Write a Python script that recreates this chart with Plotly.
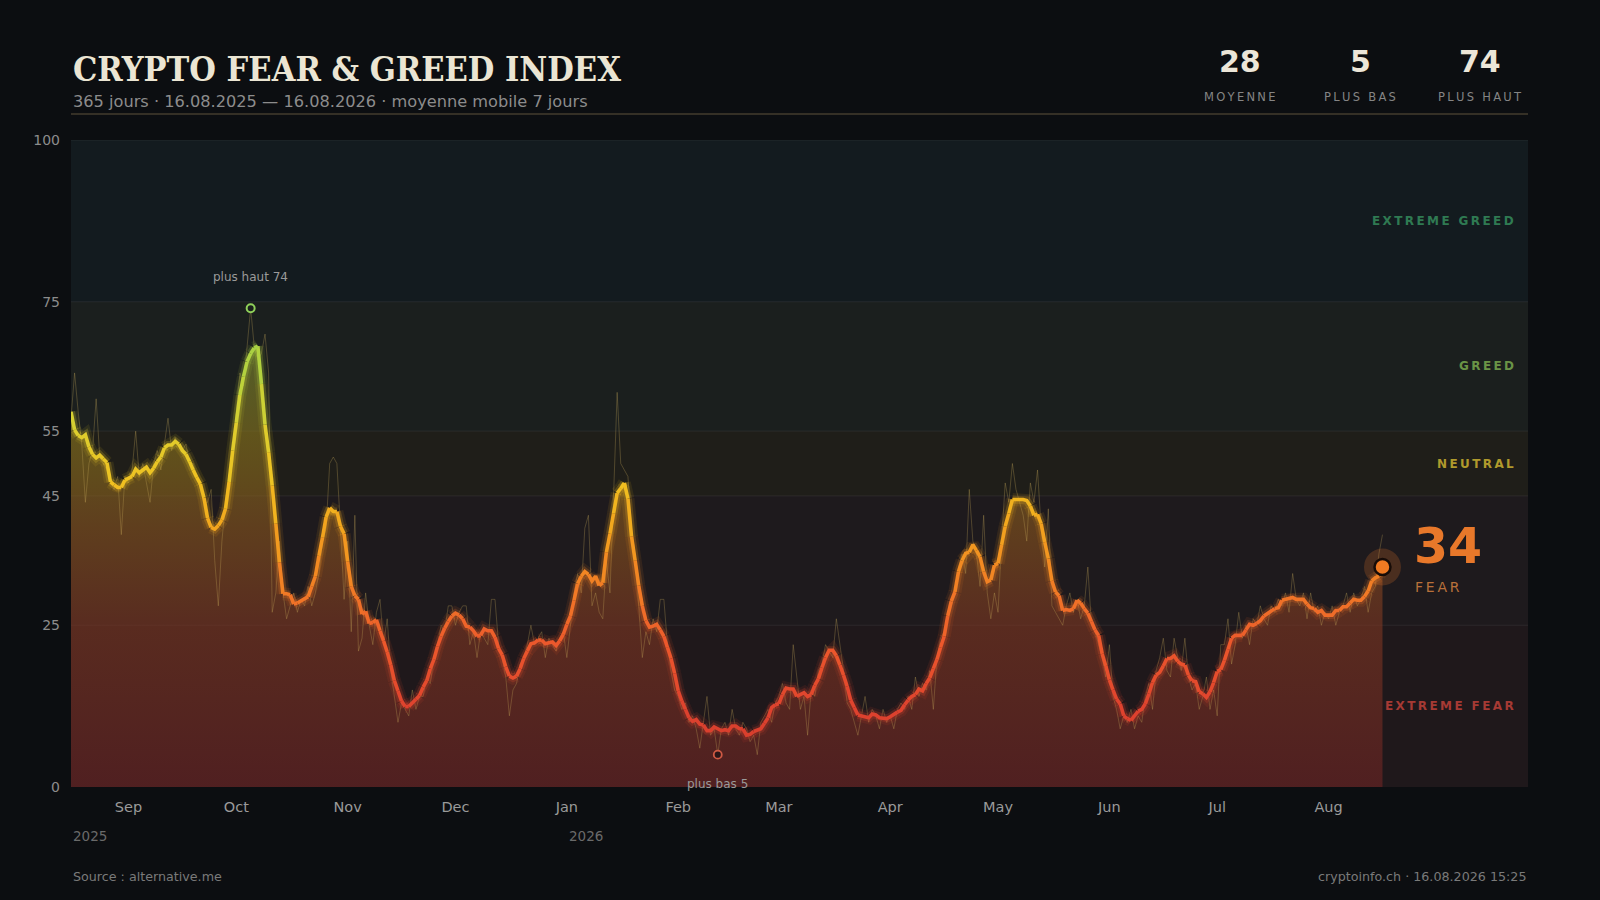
import numpy as np
import pandas as pd
import plotly.graph_objects as go

# ---------------- data (daily Fear & Greed values) ----------------
raw_aug25 = [57, 64, 58, 53, 44, 50, 52, 60, 51, 50, 49, 47, 46, 48, 39, 48]
raw_sep25 = [47, 49, 55, 48, 50, 47, 44, 50, 52, 49, 53, 57, 52, 54, 53, 52, 53, 50, 50, 48,
             46, 44, 44, 46, 35, 28, 38, 44, 48, 50]
raw_oct25 = [58, 64, 62, 68, 74, 68, 66, 67, 70, 64, 27, 30, 38, 30, 26, 28, 30, 27, 29, 28,
             31, 28, 30, 33, 38, 40, 50, 51, 50, 40, 29]
raw_nov25 = [38, 24, 42, 21, 23, 30, 25, 22, 27, 29, 22, 26, 18, 14, 10, 13, 12, 11, 15, 12,
             14, 14, 17, 16, 20, 22, 25, 24, 28, 28]
raw_dec25 = [25, 27, 28, 28, 22, 24, 20, 24, 23, 22, 29, 29, 22, 20, 17, 11, 15, 16, 19, 20,
             22, 25, 22, 23, 24, 20, 23, 22, 21, 23, 24]
raw_jan26 = [20, 25, 30, 33, 30, 40, 42, 28, 30, 27, 26, 35, 30, 45, 61, 50, 49, 48, 40, 36,
             28, 20, 24, 22, 26, 24, 29, 29, 22, 18, 15]
raw_feb26 = [14, 12, 13, 10, 11, 9, 6, 10, 14, 8, 9, 5, 9, 10, 8, 12, 9, 8, 10, 9,
             7, 8, 5, 10, 11, 12, 10, 13]
raw_mar26 = [14, 16, 13, 12, 22, 17, 12, 14, 8, 15, 14, 18, 19, 22, 21, 20, 26, 22, 18, 13,
             12, 10, 8, 11, 14, 10, 12, 11, 9, 12, 10]
raw_apr26 = [11, 9, 12, 13, 12, 14, 12, 17, 14, 16, 15, 18, 12, 20, 23, 24, 26, 28, 30, 34,
             36, 33, 46, 38, 36, 31, 42, 30, 26, 30]
raw_may26 = [27, 38, 47, 44, 50, 46, 44, 42, 38, 47, 44, 49, 40, 34, 43, 28, 27, 26, 25, 28,
             30, 27, 29, 26, 28, 34, 25, 24, 22, 20, 17]
raw_jun26 = [22, 14, 12, 9, 11, 10, 12, 9, 11, 10, 14, 16, 12, 18, 20, 23, 18, 17, 23, 20,
             18, 23, 17, 15, 16, 12, 14, 17, 12, 15]
raw_jul26 = [11, 22, 22, 26, 19, 22, 27, 23, 25, 22, 26, 25, 28, 26, 25, 28, 27, 29, 28, 30,
             27, 33, 29, 28, 30, 26, 30, 27, 28, 25, 27]
raw_aug26 = [26, 28, 25, 27, 28, 30, 27, 30, 28, 29, 31, 27, 30, 31, 36, 39]

start_date = "2025-08-16"
axis_end = "2026-09-25 12:00"

zone_edges = [0, 25, 45, 55, 75, 100]
zone_names = ["EXTREME FEAR", "FEAR", "NEUTRAL", "GREED", "EXTREME GREED"]
zone_bg = ["#1f181b", "#1e1a1d", "#1f1e19", "#1b1f1e", "#131b1f"]
zone_label_colors = ["#a63a34", None, "#b09a2c", "#6a9446", "#2f7a52"]

y_ticks = [0, 25, 45, 55, 75, 100]
year_labels = [("2025", "2025-08-16"), ("2026", "2026-01-01")]

title_text = "CRYPTO FEAR & GREED INDEX"
subtitle_text = "365 jours · 16.08.2025 — 16.08.2026 · moyenne mobile 7 jours"
source_text = "Source : alternative.me"
stamp_text = "cryptoinfo.ch · 16.08.2026 15:25"

# ---------------- derived ----------------
raw = (raw_aug25 + raw_sep25 + raw_oct25 + raw_nov25 + raw_dec25 + raw_jan26 + raw_feb26 +
       raw_mar26 + raw_apr26 + raw_may26 + raw_jun26 + raw_jul26 + raw_aug26)
raw = np.array(raw, dtype=float)
dates = pd.date_range(start_date, periods=len(raw), freq="D")
ma = pd.Series(raw).rolling(7, center=True, min_periods=1).mean().to_numpy()

avg_v = int(round(raw.mean()))
min_i = int(np.argmin(raw))
max_i = int(np.argmax(raw))
cur_v = int(round(ma[-1]))

month_ticks = pd.date_range("2025-09-01", "2026-08-01", freq="MS")
month_labels = [d.strftime("%b") for d in month_ticks]

# pixel helpers (plot area 71..1528 x 140..787)
L, R, T, B = 71, 1528, 140, 787
def px(xp):
    return (xp - L) / (R - L)
def py(yp):
    return (B - yp) / (B - T)

def spaced(s):
    return "\u2009".join(s)

stops = [(0, (208, 58, 44)), (12, (222, 66, 46)), (22, (236, 88, 44)), (28, (240, 112, 40)),
         (34, (242, 138, 34)), (40, (242, 164, 30)), (47, (240, 192, 32)), (55, (222, 206, 46)),
         (63, (186, 210, 60)), (72, (150, 206, 74)), (100, (120, 200, 90))]
def col(v, a=1.0):
    for (v0, c0), (v1, c1) in zip(stops[:-1], stops[1:]):
        if v <= v1:
            t = (v - v0) / (v1 - v0) if v1 > v0 else 0
            c = [int(round(c0[k] + t * (c1[k] - c0[k]))) for k in range(3)]
            return f"rgba({c[0]},{c[1]},{c[2]},{a})"
    c = stops[-1][1]
    return f"rgba({c[0]},{c[1]},{c[2]},{a})"

fig = go.Figure()

# zones
shapes = []
for i in range(5):
    shapes.append(dict(type="rect", xref="paper", yref="y", x0=0, x1=1,
                       y0=zone_edges[i], y1=zone_edges[i + 1],
                       fillcolor=zone_bg[i], line=dict(width=0), layer="below"))
for e in zone_edges[1:]:
    shapes.append(dict(type="line", xref="paper", yref="y", x0=0, x1=1, y0=e, y1=e,
                       line=dict(color="rgba(255,255,255,0.07)", width=1), layer="below"))
# header rule
shapes.append(dict(type="line", xref="paper", yref="paper", x0=0, x1=1, y0=py(114), y1=py(114),
                   line=dict(color="#433d2e", width=1.5)))

# area fill with vertical gradient
fig.add_trace(go.Scatter(
    x=dates, y=ma, mode="lines", line=dict(width=0, color="rgba(0,0,0,0)"),
    fill="tozeroy",
    fillgradient=dict(type="vertical", start=0, stop=70,
                      colorscale=[[0.0, "rgba(110,36,36,0.62)"],
                                  [0.36, "rgba(128,56,34,0.60)"],
                                  [0.57, "rgba(142,88,30,0.58)"],
                                  [0.78, "rgba(150,128,30,0.55)"],
                                  [1.0, "rgba(128,150,52,0.55)"]]),
    hoverinfo="skip"))

# raw daily line
fig.add_trace(go.Scatter(x=dates, y=raw, mode="lines",
                         line=dict(color="rgba(200,170,90,0.30)", width=1),
                         hoverinfo="skip"))

# moving-average line coloured by value (segments grouped by value bin)
groups = {}
for i in range(len(ma) - 1):
    b = int(round((ma[i] + ma[i + 1]) / 2))
    xs, ys = groups.setdefault(b, ([], []))
    if len(xs) >= 2 and xs[-2] == dates[i]:
        xs.pop(); ys.pop()
        xs += [dates[i + 1], None]; ys += [ma[i + 1], None]
    else:
        xs += [dates[i], dates[i + 1], None]; ys += [ma[i], ma[i + 1], None]

for width, alpha in [(13, 0.10), (8, 0.22)]:
    for b, (xs, ys) in groups.items():
        fig.add_trace(go.Scatter(x=xs, y=ys, mode="lines",
                                 line=dict(color=col(b, alpha), width=width),
                                 hoverinfo="skip", connectgaps=False))
for b, (xs, ys) in groups.items():
    fig.add_trace(go.Scatter(x=xs, y=ys, mode="lines",
                             line=dict(color=col(b, 1.0), width=3.6),
                             hoverinfo="skip", connectgaps=False))

# max / min markers
fig.add_trace(go.Scatter(x=[dates[max_i]], y=[raw[max_i]], mode="markers",
                         marker=dict(size=8, color="#1b201d",
                                     line=dict(color="#8fd05a", width=2)),
                         hoverinfo="skip"))
fig.add_trace(go.Scatter(x=[dates[min_i]], y=[raw[min_i]], mode="markers",
                         marker=dict(size=8, color="#2a1618",
                                     line=dict(color="#d05a44", width=1.8)),
                         hoverinfo="skip"))

# current value marker
fig.add_trace(go.Scatter(x=[dates[-1]], y=[ma[-1]], mode="markers",
                         marker=dict(size=37, color="rgba(232,120,42,0.22)", line=dict(width=0)),
                         hoverinfo="skip"))
fig.add_trace(go.Scatter(x=[dates[-1]], y=[ma[-1]], mode="markers",
                         marker=dict(size=16, color="#f07a22",
                                     line=dict(color="#170c08", width=2.5)),
                         hoverinfo="skip"))

ann = []
# title block
ann.append(dict(xref="paper", yref="paper", x=0, y=py(69), xanchor="left", yanchor="middle",
                text=f"<b>{title_text}</b>", showarrow=False,
                font=dict(family="DejaVu Serif Condensed, Liberation Serif, serif",
                          size=34, color="#ebe5d3")))
ann.append(dict(xref="paper", yref="paper", x=0, y=py(101), xanchor="left", yanchor="middle",
                text=subtitle_text, showarrow=False,
                font=dict(family="DejaVu Sans", size=16.2, color="#8c8c8c")))
# stats
for xc, val, lab in [(1240, avg_v, "MOYENNE"), (1360, int(raw[min_i]), "PLUS BAS"),
                     (1480, int(raw[max_i]), "PLUS HAUT")]:
    ann.append(dict(xref="paper", yref="paper", x=px(xc), y=py(62), xanchor="center",
                    yanchor="middle", text=f"<b>{val}</b>", showarrow=False,
                    font=dict(family="DejaVu Sans", size=30, color="#ece6d8")))
    ann.append(dict(xref="paper", yref="paper", x=px(xc), y=py(97), xanchor="center",
                    yanchor="middle", text=spaced(lab), showarrow=False,
                    font=dict(family="DejaVu Sans", size=11.5, color="#858585")))
# zone labels
for i in range(5):
    if zone_label_colors[i] is None:
        continue
    ann.append(dict(xref="paper", yref="y", x=px(1516), y=(zone_edges[i] + zone_edges[i + 1]) / 2,
                    xanchor="right", yanchor="middle", text=f"<b>{spaced(zone_names[i])}</b>",
                    showarrow=False, font=dict(family="DejaVu Sans", size=12,
                                               color=zone_label_colors[i])))
# max/min labels
ann.append(dict(x=dates[max_i], y=raw[max_i], yshift=31, text=f"plus haut {int(raw[max_i])}",
                showarrow=False, font=dict(family="DejaVu Sans", size=12, color="#9a9a9a")))
ann.append(dict(x=dates[min_i], y=raw[min_i], yshift=-29, text=f"plus bas {int(raw[min_i])}",
                showarrow=False, font=dict(family="DejaVu Sans", size=12, color="#9a9a9a")))
# current value label
ann.append(dict(xref="paper", yref="paper", x=px(1412), y=py(546), xanchor="left",
                yanchor="middle", text=f"<b>{cur_v}</b>", showarrow=False,
                font=dict(family="DejaVu Sans", size=49, color="#e8782a")))
ann.append(dict(xref="paper", yref="paper", x=px(1413), y=py(587), xanchor="left",
                yanchor="middle", text=spaced("FEAR"), showarrow=False,
                font=dict(family="DejaVu Sans", size=14, color="#b8703a")))
# year labels
for txt, d in year_labels:
    ann.append(dict(xref="x", yref="paper", x=d, y=py(836), xanchor="left", yanchor="middle",
                    text=txt, showarrow=False,
                    font=dict(family="DejaVu Sans", size=13.5, color="#6a6a6a")))
# footer
ann.append(dict(xref="paper", yref="paper", x=0, y=py(876), xanchor="left", yanchor="middle",
                text=source_text, showarrow=False,
                font=dict(family="DejaVu Sans", size=12.7, color="#7a7a7a")))
ann.append(dict(xref="paper", yref="paper", x=1, y=py(876), xanchor="right", yanchor="middle",
                text=stamp_text, showarrow=False,
                font=dict(family="DejaVu Sans", size=12.7, color="#7a7a7a")))

fig.update_layout(
    width=1600, height=900,
    paper_bgcolor="#0c0e11", plot_bgcolor="#1e1a1d",
    margin=dict(l=L, r=1600 - R, t=T, b=900 - B, autoexpand=False),
    showlegend=False,
    font=dict(family="DejaVu Sans", color="#8c8c8c"),
    shapes=shapes, annotations=ann,
    xaxis=dict(type="date", range=[start_date, axis_end], tickvals=list(month_ticks),
               ticktext=month_labels, showgrid=False, zeroline=False, showline=False,
               ticks="", tickfont=dict(size=14.5, color="#9a9a9a"), ticklabelstandoff=9),
    yaxis=dict(range=[0, 100], tickvals=y_ticks, ticktext=[str(v) for v in y_ticks],
               showgrid=False, zeroline=False, showline=False, ticks="",
               tickfont=dict(size=14, color="#8c8c8c"), ticklabelstandoff=10),
    hovermode=False,
)

fig.write_html("out.html", config={"displayModeBar": False},
               post_script="document.body.style.margin='0';document.body.style.overflow='hidden';")
